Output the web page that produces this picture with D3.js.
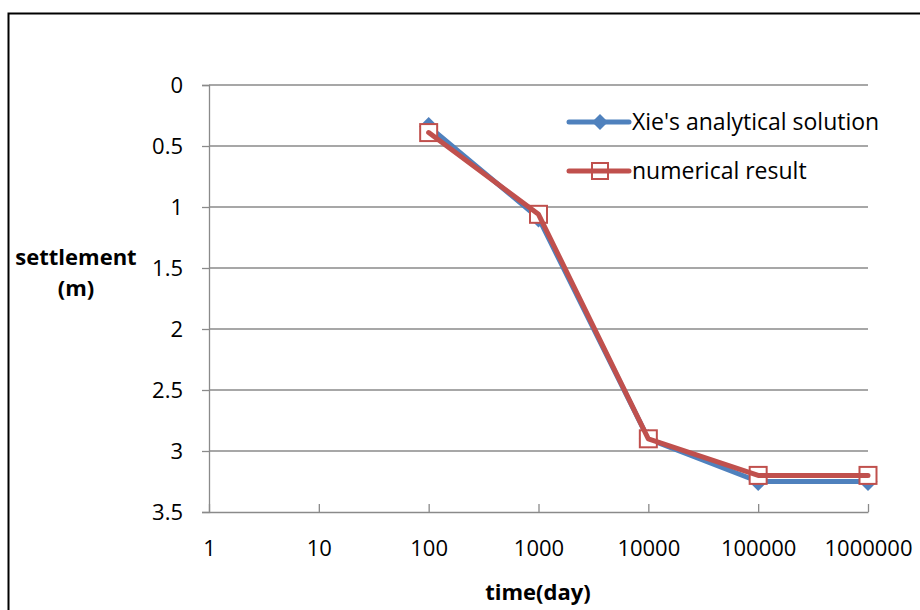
<!DOCTYPE html>
<html>
<head>
<meta charset="utf-8">
<script src="https://cdn.jsdelivr.net/npm/d3@7"></script>
<style>
  body { margin: 0; background: #fff; }
  text { font-family: "Open Sans", sans-serif; fill: #000; }
</style>
</head>
<body>
<svg id="chart" width="920" height="610"></svg>
<script>
// data
var times = [100, 1000, 10000, 100000, 1000000]
var xieValues = [0.34, 1.09, 2.9, 3.25, 3.25]
var numericalValues = [0.39, 1.06, 2.9, 3.2, 3.2]
var xTicks = [1, 10, 100, 1000, 10000, 100000, 1000000]
var yTicks = [0, 0.5, 1, 1.5, 2, 2.5, 3, 3.5]
var seriesNames = ["Xie's analytical solution", "numerical result"]

var blue = "#4f81bd"
var red = "#c0504d"
var grid = "#8a8a8a"
var font = "'Open Sans', sans-serif"

var svg = d3.select("#chart")

// outer frame
svg.append("rect")
    .attr("x", 8.5).attr("y", 13.5)
    .attr("width", 930).attr("height", 620)
    .attr("fill", "none").attr("stroke", "#000").attr("stroke-width", 2)

var x = d3.scaleLog().domain([1, 1000000]).range([209, 868])
var y = d3.scaleLinear().domain([0, 3.5]).range([85, 512])

// horizontal gridlines
svg.append("g").selectAll("line")
    .data(yTicks.slice(0, -1))
    .enter().append("line")
    .attr("x1", x(1)).attr("x2", x(1000000))
    .attr("y1", function(d) { return y(d) }).attr("y2", function(d) { return y(d) })
    .attr("stroke", grid).attr("stroke-width", 1.3)

// y axis
var yAxis = svg.append("g")
    .attr("transform", "translate(" + x(1) + ",0)")
    .call(d3.axisLeft(y).tickValues(yTicks).tickSize(7).tickPadding(19)
        .tickFormat(function(d) { return d }))
yAxis.select(".domain").attr("stroke", grid).attr("stroke-width", 1.3)
yAxis.selectAll(".tick line").attr("stroke", grid).attr("stroke-width", 1.3)
yAxis.selectAll(".tick text")
    .attr("font-size", 22).attr("font-family", font).attr("fill", "#000")

// x axis, ticks pointing inward
var xAxis = svg.append("g")
    .attr("transform", "translate(0," + y(3.5) + ")")
    .call(d3.axisBottom(x).tickValues(xTicks).tickSizeInner(-8).tickSizeOuter(0).tickPadding(28)
        .tickFormat(d3.format("d")))
xAxis.select(".domain").attr("stroke", grid).attr("stroke-width", 1.3)
xAxis.selectAll(".tick line").attr("stroke", grid).attr("stroke-width", 1.3)
xAxis.selectAll(".tick text")
    .attr("font-size", 22).attr("font-family", font).attr("fill", "#000")

// axis titles
svg.append("text")
    .attr("x", 538).attr("y", 600)
    .attr("text-anchor", "middle").attr("font-size", 22).attr("font-weight", "bold")
    .text("time(day)")

svg.append("text")
    .attr("x", 76).attr("y", 265)
    .attr("text-anchor", "middle").attr("font-size", 22).attr("font-weight", "bold")
    .text("settlement")
svg.append("text")
    .attr("x", 76).attr("y", 296)
    .attr("text-anchor", "middle").attr("font-size", 22).attr("font-weight", "bold")
    .text("(m)")

var line = d3.line()
    .x(function(d) { return x(d[0]) })
    .y(function(d) { return y(d[1]) })

var xiePoints = d3.zip(times, xieValues)
var numPoints = d3.zip(times, numericalValues)

function diamond(cx, cy, r) {
    return "M" + cx + "," + (cy - r) + "L" + (cx + r) + "," + cy +
        "L" + cx + "," + (cy + r) + "L" + (cx - r) + "," + cy + "Z"
}

// Xie series
svg.append("path")
    .attr("d", line(xiePoints))
    .attr("fill", "none").attr("stroke", blue).attr("stroke-width", 5)
    .attr("stroke-linejoin", "round").attr("stroke-linecap", "round")
svg.append("g").selectAll("path")
    .data(xiePoints)
    .enter().append("path")
    .attr("d", function(d) { return diamond(x(d[0]), y(d[1]), 9.5) })
    .attr("fill", blue)

// numerical series
svg.append("g").selectAll("rect")
    .data(numPoints)
    .enter().append("rect")
    .attr("x", function(d) { return x(d[0]) - 8.5 })
    .attr("y", function(d) { return y(d[1]) - 8.5 })
    .attr("width", 17).attr("height", 17)
    .attr("fill", "#fff").attr("stroke", red).attr("stroke-width", 2)
svg.append("path")
    .attr("d", line(numPoints))
    .attr("fill", "none").attr("stroke", red).attr("stroke-width", 5)
    .attr("stroke-linejoin", "round").attr("stroke-linecap", "round")

// legend
var legendY = [122, 171]
var legend = svg.append("g")
legend.append("line")
    .attr("x1", 569).attr("x2", 629).attr("y1", legendY[0]).attr("y2", legendY[0])
    .attr("stroke", blue).attr("stroke-width", 5).attr("stroke-linecap", "round")
legend.append("path").attr("d", diamond(600, legendY[0], 8)).attr("fill", blue)
legend.append("line")
    .attr("x1", 569).attr("x2", 629).attr("y1", legendY[1]).attr("y2", legendY[1])
    .attr("stroke", red).attr("stroke-width", 5).attr("stroke-linecap", "round")
legend.append("rect")
    .attr("x", 592).attr("y", legendY[1] - 8).attr("width", 16).attr("height", 16)
    .attr("fill", "none").attr("stroke", red).attr("stroke-width", 2)
legend.selectAll("text")
    .data(seriesNames)
    .enter().append("text")
    .attr("x", 632).attr("y", function(d, i) { return legendY[i] + 8 })
    .attr("font-size", 23)
    .text(function(d) { return d })
</script>
</body>
</html>
